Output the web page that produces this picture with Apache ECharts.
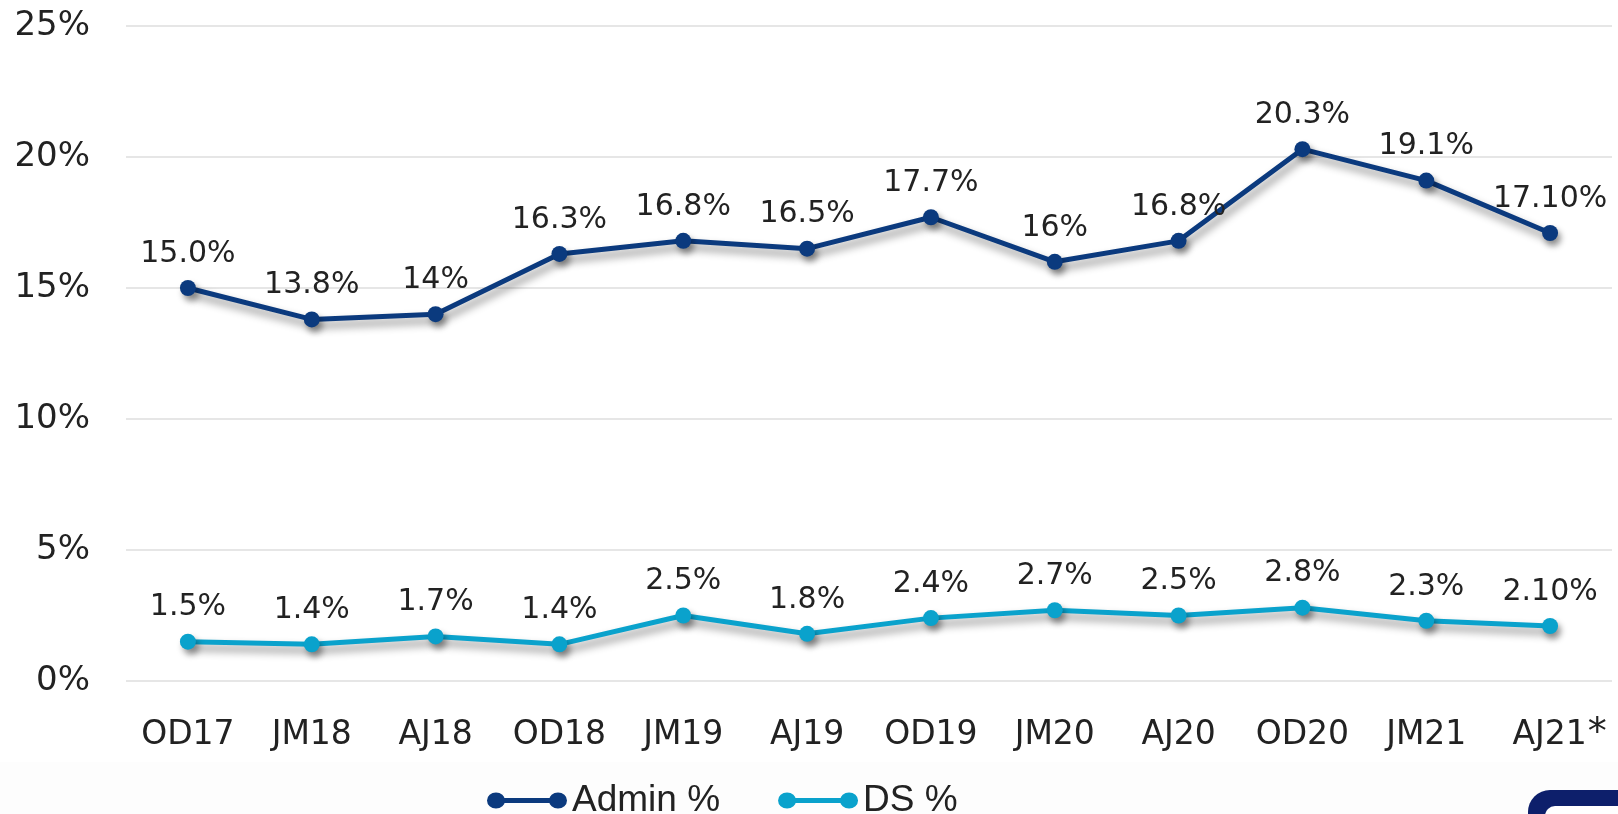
<!DOCTYPE html>
<html>
<head>
<meta charset="utf-8">
<script src="https://cdn.jsdelivr.net/npm/echarts@6/dist/echarts.min.js"></script>
<style>
html,body{margin:0;padding:0;background:#fff;}
#main{width:1618px;height:814px;}
</style>
</head>
<body>
<div id="main"></div>
<script>
var periods = ['OD17','JM18','AJ18','OD18','JM19','AJ19','OD19','JM20','AJ20','OD20','JM21','AJ21'];
var adminVals = [15.0,13.8,14,16.3,16.8,16.5,17.7,16,16.8,20.3,19.1,17.1];
var adminLabels = ['15.0%','13.8%','14%','16.3%','16.8%','16.5%','17.7%','16%','16.8%','20.3%','19.1%','17.10%'];
var dsVals = [1.5,1.4,1.7,1.4,2.5,1.8,2.4,2.7,2.5,2.8,2.3,2.1];
var dsLabels = ['1.5%','1.4%','1.7%','1.4%','2.5%','1.8%','2.4%','2.7%','2.5%','2.8%','2.3%','2.10%'];

var font = 'DejaVu Sans';
var dumbbell = 'path://M0,8A9,8 0 1,1 18,8A9,8 0 1,1 0,8ZM62,8A9,8 0 1,1 80,8A9,8 0 1,1 62,8ZM9,5.5L71,5.5L71,10.5L9,10.5Z';

function lineSeries(name, vals, labels, color){
	return {
		name: name,
		type: 'line',
		data: vals,
		symbol: 'circle',
		symbolSize: 16,
		itemStyle: {color: color, shadowColor: 'rgba(0,0,0,0.4)', shadowBlur: 6, shadowOffsetX: 3, shadowOffsetY: 5},
		lineStyle: {
			width: 5, color: color,
			shadowColor: 'rgba(0,0,0,0.45)', shadowBlur: 8, shadowOffsetX: 3, shadowOffsetY: 6
		},
		label: {
			show: true,
			position: 'top',
			distance: 11,
			fontFamily: font,
			fontSize: 30,
			color: '#222',
			formatter: function(p){ return labels[p.dataIndex]; }
		},
		emphasis: {disabled: true}
	};
}

var myChart = echarts.init(document.getElementById('main'));
option = {
	animation: false,
	backgroundColor: '#fff',
	grid: {left: 126, right: 6, top: 26, bottom: 133},
	legend: {
		top: 777,
		left: 482,
		itemWidth: 80,
		itemHeight: 16,
		itemGap: 58,
		textStyle: {fontFamily: "'Liberation Sans Narrow','Arial Narrow','Liberation Sans',sans-serif", fontSize: 37, color: '#222'},
		data: [{name: 'Admin %', icon: dumbbell}, {name: 'DS %', icon: dumbbell}]
	},
	xAxis: {
		type: 'category',
		data: periods,
		axisLine: {show: false},
		axisTick: {show: false},
		axisLabel: {
			interval: 0,
			margin: 34,
			fontFamily: font,
			fontSize: 33,
			color: '#222',
			formatter: function(v, i){
				return i == periods.length - 1 ? '{p|}{a|' + v + '}{s|*}' : '{a|' + v + '}';
			},
			rich: {
				a: {fontFamily: font, fontSize: 33, lineHeight: 40, color: '#222'},
				p: {width: 19, lineHeight: 40},
				s: {fontFamily: font, fontSize: 38, lineHeight: 10, verticalAlign: 'top', color: '#222', padding: [0, 0, 30, 1]}
			}
		}
	},
	yAxis: {
		type: 'value',
		min: 0,
		max: 25,
		interval: 5,
		axisLabel: {
			margin: 36,
			fontFamily: font,
			fontSize: 34,
			color: '#222',
			formatter: '{value}%'
		},
		splitLine: {lineStyle: {color: '#dedede', width: 1.5}}
	},
	series: [
		lineSeries('Admin %', adminVals, adminLabels, '#0b3a7e'),
		lineSeries('DS %', dsVals, dsLabels, '#0aa2cc')
	],
	graphic: [
		{type: 'rect', z: -1, shape: {x: 0, y: 762, width: 1618, height: 52}, style: {fill: '#fdfdfd'}},
		{type: 'rect', shape: {x: 1528, y: 790, width: 120, height: 60, r: 22}, style: {fill: '#0d1f6b'}},
		{type: 'rect', shape: {x: 1545, y: 806, width: 90, height: 30, r: 10}, style: {fill: '#fff'}}
	]
};
myChart.setOption(option);
</script>
</body>
</html>
